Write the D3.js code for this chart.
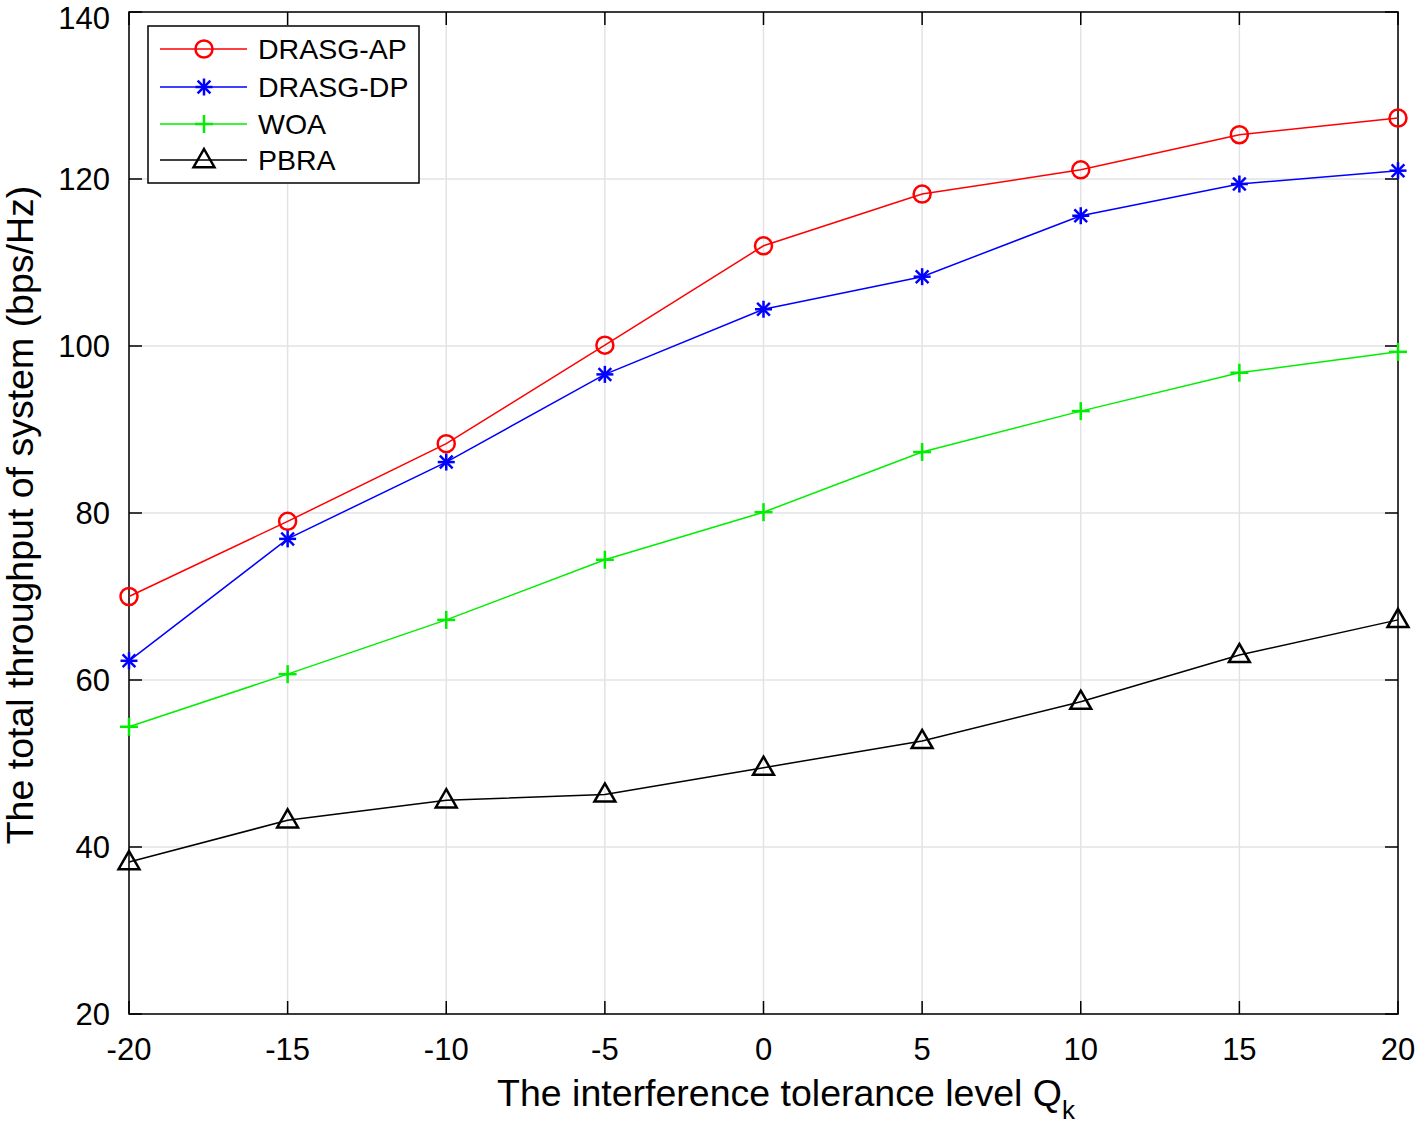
<!DOCTYPE html>
<html>
<head>
<meta charset="utf-8">
<script src="https://cdn.jsdelivr.net/npm/d3@7"></script>
<style>
  body { margin: 0; background: #fff; }
  svg { font-family: "Liberation Sans", Arial, Helvetica, sans-serif; }
</style>
</head>
<body>
<svg id="chart" width="1424" height="1127"></svg>
<script>
const xValues = [-20, -15, -10, -5, 0, 5, 10, 15, 20];
const xTicks = [-20, -15, -10, -5, 0, 5, 10, 15, 20];
const yTicks = [20, 40, 60, 80, 100, 120, 140];
const seriesNames = ["DRASG-AP", "DRASG-DP", "WOA", "PBRA"];
const drasgAP = [70.0, 79.0, 88.3, 100.1, 112.0, 118.2, 121.1, 125.3, 127.3];
const drasgDP = [62.3, 76.9, 86.1, 96.6, 104.4, 108.3, 115.6, 119.4, 121.0];
const woa     = [54.4, 60.7, 67.2, 74.4, 80.1, 87.3, 92.2, 96.8, 99.3];
const pbra    = [38.2, 43.2, 45.6, 46.3, 49.5, 52.7, 57.4, 63.0, 67.2];
const seriesColors = ["#ff0000", "#0000ff", "#00ee00", "#000000"];
const seriesMarkers = ["circle", "star", "plus", "triangle"];

const series = seriesNames.map((n, i) => ({
  name: n, values: [drasgAP, drasgDP, woa, pbra][i],
  color: seriesColors[i], marker: seriesMarkers[i]
}));

const svg = d3.select("#chart");
const L = 129, R = 1398, T = 12, B = 1014;
const x = d3.scaleLinear().domain([-20, 20]).range([L, R]);
const y = d3.scaleLinear().domain([20, 140]).range([B, T]);

// grid
const g = svg.append("g");
g.selectAll(".vg").data(xTicks).enter().append("line")
  .attr("x1", d => x(d)).attr("x2", d => x(d)).attr("y1", T).attr("y2", B)
  .attr("stroke", "#e3e3e3").attr("stroke-width", 1.5);
g.selectAll(".hg").data(yTicks).enter().append("line")
  .attr("x1", L).attr("x2", R).attr("y1", d => y(d)).attr("y2", d => y(d))
  .attr("stroke", "#e3e3e3").attr("stroke-width", 1.5);

// axes box
svg.append("rect").attr("x", L).attr("y", T).attr("width", R - L).attr("height", B - T)
  .attr("fill", "none").attr("stroke", "#000").attr("stroke-width", 1.5);

const tl = 13;
xTicks.forEach(d => {
  svg.append("line").attr("x1", x(d)).attr("x2", x(d)).attr("y1", B).attr("y2", B - tl).attr("stroke", "#000").attr("stroke-width", 1.5);
  svg.append("line").attr("x1", x(d)).attr("x2", x(d)).attr("y1", T).attr("y2", T + tl).attr("stroke", "#000").attr("stroke-width", 1.5);
});
yTicks.forEach(d => {
  svg.append("line").attr("x1", L).attr("x2", L + tl).attr("y1", y(d)).attr("y2", y(d)).attr("stroke", "#000").attr("stroke-width", 1.5);
  svg.append("line").attr("x1", R).attr("x2", R - tl).attr("y1", y(d)).attr("y2", y(d)).attr("stroke", "#000").attr("stroke-width", 1.5);
});

// tick labels
svg.selectAll(".xl").data(xTicks).enter().append("text")
  .attr("x", d => x(d)).attr("y", 1060).attr("text-anchor", "middle")
  .attr("font-size", 31).text(d => d);
svg.selectAll(".yl").data(yTicks).enter().append("text")
  .attr("x", 110).attr("y", d => Math.max(y(d) + 11, 29)).attr("text-anchor", "end")
  .attr("font-size", 31).text(d => d);

// axis labels
const xl = svg.append("text").attr("x", 786).attr("y", 1106).attr("text-anchor", "middle").attr("font-size", 37.5);
xl.append("tspan").text("The interference tolerance level Q");
xl.append("tspan").attr("font-size", 26).attr("dy", 13).text("k");
svg.append("text").attr("transform", "translate(33,515) rotate(-90)").attr("text-anchor", "middle")
  .attr("font-size", 37.5).text("The total throughput of system (bps/Hz)");

function drawMarker(sel, type, color, cx, cy) {
  if (type === "circle") {
    sel.append("circle").attr("cx", cx).attr("cy", cy).attr("r", 8.5)
      .attr("fill", "none").attr("stroke", color).attr("stroke-width", 2.5);
  } else if (type === "star") {
    const r = 8.5;
    [[0, 1], [1, 0], [0.75, 0.75], [0.75, -0.75]].forEach(([a, b]) => {
      sel.append("line").attr("x1", cx - a * r).attr("x2", cx + a * r)
        .attr("y1", cy - b * r).attr("y2", cy + b * r)
        .attr("stroke", color).attr("stroke-width", 2.5);
    });
  } else if (type === "plus") {
    const r = 9;
    sel.append("line").attr("x1", cx - r).attr("x2", cx + r).attr("y1", cy).attr("y2", cy).attr("stroke", color).attr("stroke-width", 2.5);
    sel.append("line").attr("x1", cx).attr("x2", cx).attr("y1", cy - r).attr("y2", cy + r).attr("stroke", color).attr("stroke-width", 2.5);
  } else if (type === "triangle") {
    const r = 11;
    sel.append("path").attr("d", `M${cx},${cy - r}L${cx + r * 0.95},${cy + r * 0.65}L${cx - r * 0.95},${cy + r * 0.65}Z`)
      .attr("fill", "none").attr("stroke", color).attr("stroke-width", 2.5).attr("stroke-linejoin", "miter");
  }
}

const line = d3.line().x((d, i) => x(xValues[i])).y(d => y(d));
series.forEach(s => {
  svg.append("path").datum(s.values).attr("d", line)
    .attr("fill", "none").attr("stroke", s.color).attr("stroke-width", 1.5);
  const mg = svg.append("g");
  s.values.forEach((v, i) => drawMarker(mg, s.marker, s.color, x(xValues[i]), y(v)));
});

// legend
const lg = svg.append("g");
lg.append("rect").attr("x", 148).attr("y", 26).attr("width", 271).attr("height", 157)
  .attr("fill", "#fff").attr("stroke", "#000").attr("stroke-width", 1.5);
const rowsY = [49, 87, 124, 160];
series.forEach((s, i) => {
  const yy = rowsY[i];
  lg.append("line").attr("x1", 160).attr("x2", 247).attr("y1", yy).attr("y2", yy)
    .attr("stroke", s.color).attr("stroke-width", 1.5);
  drawMarker(lg, s.marker, s.color, 204, yy);
  lg.append("text").attr("x", 258).attr("y", yy + 10).attr("font-size", 28.5).text(s.name);
});
</script>
</body>
</html>
